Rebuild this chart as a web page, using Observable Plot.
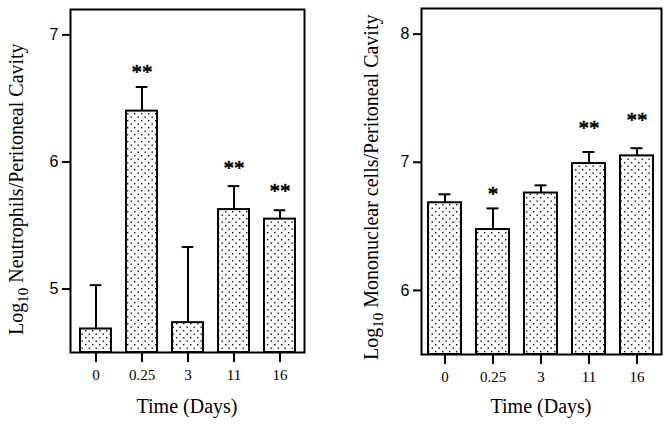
<!DOCTYPE html>
<html><head><meta charset="utf-8">
<script src="https://cdn.jsdelivr.net/npm/d3@7"></script>
<script src="https://cdn.jsdelivr.net/npm/@observablehq/plot@0.6"></script>
<style>
body{margin:0;background:#fff}
#wrap{display:flex;width:672px;height:425px;background:#fff}
#wrap svg{display:block}
</style>
</head><body><div id="wrap"></div>
<script>
// Categories (x tick labels)
const days = ["0", "0.25", "3", "11", "16"];

// Left panel: Log10 neutrophils
const neutMean   = [4.685, 6.40, 4.735, 5.625, 5.55];
const neutErrTop = [5.03, 6.59, 5.33, 5.81, 5.62];
const neutStars  = ["", "**", "", "**", "**"];
const neutStarY  = [null, 6.74, null, 5.98, 5.80];
const neutTicks  = [5, 6, 7];
const neutDomain = [4.5, 7.2];

// Right panel: Log10 mononuclear cells
const monoMean   = [6.684, 6.475, 6.76, 6.99, 7.05];
const monoErrTop = [6.75, 6.64, 6.82, 7.08, 7.11];
const monoStars  = ["", "*", "", "**", "**"];
const monoStarY  = [null, 6.78, null, 7.30, 7.36];
const monoTicks  = [6, 7, 8];
const monoDomain = [5.5, 8.2];

const xTitle = "Time (Days)";
const neutTitle = " Neutrophils/Peritoneal Cavity";
const monoTitle = " Mononuclear cells/Peritoneal Cavity";

const SERIF = "Liberation Serif";
const SANS = "Liberation Sans";

function panel(cfg) {
  const data = days.map((d, i) => ({day: d, mean: cfg.mean[i], err: cfg.err[i], star: cfg.stars[i], starY: cfg.starY[i]}));
  const svg = Plot.plot({
    width: 336, height: 425,
    marginLeft: cfg.ml, marginRight: cfg.mr, marginTop: cfg.mt, marginBottom: cfg.mb,
    style: {fontFamily: SERIF, fontSize: "15px", background: "white", color: "black", overflow: "visible"},
    x: {domain: days, paddingInner: cfg.pad, paddingOuter: cfg.pad / 2, axis: null},
    y: {domain: cfg.domain, axis: null},
    marks: [
      Plot.barY(data, {x: "day", y1: cfg.domain[0], y2: "mean", fill: `url(#${cfg.pat})`, stroke: "black", strokeWidth: 2}),
      Plot.ruleX(data, {x: "day", y1: "mean", y2: "err", stroke: "black", strokeWidth: 2}),
      Plot.tickY(data, {x: "day", y: "err", stroke: "black", strokeWidth: 2, insetLeft: cfg.capInset, insetRight: cfg.capInset}),
      Plot.text(data.filter(d => d.star), {x: "day", y: "starY", text: "star", fill: "black", stroke: "black", strokeWidth: 0.6, fontSize: 21, fontFamily: SERIF, dy: 4}),
      Plot.frame({stroke: "black", strokeWidth: 2}),
      Plot.axisY({ticks: cfg.ticks, tickFormat: d3.format("d"), tickSize: 8, tickPadding: 4, strokeWidth: 2, fontSize: 16, fontFamily: SANS, label: null}),
      Plot.axisX({tickSize: 10, tickPadding: 7, strokeWidth: 2, fontSize: 15, fontFamily: SERIF, label: null})
    ]
  });
  const s = d3.select(svg);
  const defs = s.insert("defs", ":first-child");
  const p = defs.append("pattern").attr("id", cfg.pat).attr("patternUnits", "userSpaceOnUse")
    .attr("width", 7).attr("height", 7);
  p.append("rect").attr("width", 7).attr("height", 7).attr("fill", "white");
  p.append("rect").attr("x", 1).attr("y", 1).attr("width", 1.4).attr("height", 1.4).attr("fill", "#111");
  p.append("rect").attr("x", 4.5).attr("y", 4.5).attr("width", 1.4).attr("height", 1.4).attr("fill", "#111");

  // y title (rotated, with subscript)
  const t = s.append("text")
    .attr("transform", `translate(${cfg.titleX},${cfg.titleY}) rotate(-90)`)
    .attr("text-anchor", "start").style("font-size", "20px").style("font-family", SERIF).attr("fill", "black");
  t.append("tspan").text("Log");
  t.append("tspan").style("font-size", "15px").attr("dy", 5).text("10");
  t.append("tspan").attr("dy", -5).text(cfg.title);

  // x title
  const cx = (cfg.ml + 336 - cfg.mr) / 2;
  s.append("text").attr("x", cx).attr("y", 413).attr("text-anchor", "middle")
    .style("font-size", "20px").style("font-family", SERIF).attr("fill", "black").text(xTitle);
  return svg;
}

const wrap = document.getElementById("wrap");
wrap.appendChild(panel({
  mean: neutMean, err: neutErrTop, stars: neutStars, starY: neutStarY, ticks: neutTicks, domain: neutDomain,
  ml: 70, mr: 32, mt: 9, mb: 73, pad: 0.33, capInset: 9.7, pat: "dotsL",
  title: neutTitle, titleX: 23, titleY: 335
}));
wrap.appendChild(panel({
  mean: monoMean, err: monoErrTop, stars: monoStars, starY: monoStarY, ticks: monoTicks, domain: monoDomain,
  ml: 85, mr: 11, mt: 8, mb: 71, pad: 0.31, capInset: 10.5, pat: "dotsR",
  title: monoTitle, titleX: 41.5, titleY: 360
}));
</script>
</body></html>
